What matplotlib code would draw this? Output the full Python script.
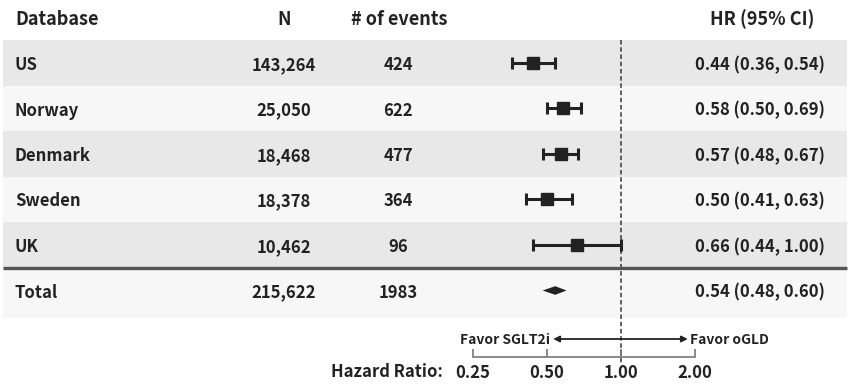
import matplotlib
matplotlib.use("Agg")
import matplotlib.pyplot as plt
import numpy as np

databases = ["US", "Norway", "Denmark", "Sweden", "UK"]
n_vals = ["143,264", "25,050", "18,468", "18,378", "10,462"]
events = ["424", "622", "477", "364", "96"]
hr = [0.44, 0.58, 0.57, 0.50, 0.66]
lo = [0.36, 0.50, 0.48, 0.41, 0.44]
hi = [0.54, 0.69, 0.67, 0.63, 1.00]
total_label = "Total"
total_n = "215,622"
total_events = "1983"
total_hr, total_lo, total_hi = 0.54, 0.48, 0.60
ticks = [0.25, 0.50, 1.00, 2.00]
tick_labels = ["0.25", "0.50", "1.00", "2.00"]

FONT = ['Noto Sans CJK KR', 'DejaVu Sans']
W, H = 850, 386
fig = plt.figure(figsize=(W/100, H/100), dpi=100)
fig.patch.set_facecolor('white')

ROW0 = 63.0     # px centre of first row
ROWH = 45.5     # px per row
def px2row(p):
    return (p - ROW0) / ROWH
TOFF = 2.0 / ROWH  # small text baseline nudge

# background axes covering the full figure
bg = fig.add_axes([0, 0, 1, 1])
bg.set_xlim(0, W)
bg.set_ylim(px2row(H), px2row(0))
bg.axis('off')

TXT = '#222222'
n_rows = len(databases)
for i in range(n_rows):
    col = '#e8e8e8' if i % 2 == 0 else '#f7f7f7'
    bg.axhspan(i - 0.5, i + 0.5, xmin=3/W, xmax=847/W, color=col, lw=0, zorder=0)
bg.axhspan(n_rows - 0.5, n_rows + 0.6, xmin=3/W, xmax=847/W, color='#f7f7f7', lw=0, zorder=0)
bg.plot([3, 847], [n_rows - 0.5, n_rows - 0.5], color='#555555', lw=2.4, solid_capstyle='butt', zorder=3)

hdr_kw = dict(fontsize=13, fontweight='bold', color=TXT, family=FONT, va='center')
bg.text(15, -1 + TOFF, "Database", ha='left', **hdr_kw)
bg.text(284, -1 + TOFF, "N", ha='center', **hdr_kw)
bg.text(399, -1 + TOFF, "# of events", ha='center', **hdr_kw)
bg.text(762, -1 + TOFF, "HR (95% CI)", ha='center', **hdr_kw)

row_kw = dict(fontsize=12, fontweight='bold', color=TXT, family=FONT, va='center')
labels = databases + [total_label]
ns = n_vals + [total_n]
evs = events + [total_events]
hrs = hr + [total_hr]
los = lo + [total_lo]
his = hi + [total_hi]
for i in range(len(labels)):
    bg.text(15, i + TOFF, labels[i], ha='left', **row_kw)
    bg.text(284, i + TOFF, ns[i], ha='center', **row_kw)
    bg.text(398, i + TOFF, evs[i], ha='center', **row_kw)
    bg.text(760, i + TOFF, f"{hrs[i]:.2f} ({los[i]:.2f}, {his[i]:.2f})", ha='center', **row_kw)

# forest axes
x0, x1 = 473, 695
ytop, ybot = 40, 357
ax = fig.add_axes([x0/W, 1 - ybot/H, (x1 - x0)/W, (ybot - ytop)/H])
ax.set_xscale('log')
ax.set_xlim(ticks[0], ticks[-1])
ax.set_ylim(px2row(ybot), px2row(ytop))
ax.patch.set_alpha(0)
for s in ['top', 'right', 'left']:
    ax.spines[s].set_visible(False)
ax.spines['bottom'].set_color('#777777')
ax.spines['bottom'].set_linewidth(1.2)
ax.set_yticks([])
ax.set_xticks(ticks)
ax.set_xticks([], minor=True)
ax.set_xticklabels(tick_labels)
ax.tick_params(axis='x', direction='in', length=6, width=1.2, color='#777777',
               labelsize=12, labelcolor=TXT, pad=5)
for t in ax.get_xticklabels():
    t.set_fontweight('bold')
    t.set_family(FONT)

ax.plot([1.0, 1.0], [px2row(ytop), px2row(365)], color='#555555', lw=1.3,
        ls=(0, (2.5, 1.5)), zorder=1, clip_on=False)

ys = np.arange(n_rows)
ax.errorbar(hr, ys, xerr=[np.array(hr) - np.array(lo), np.array(hi) - np.array(hr)],
            fmt='s', color='#222222', ms=9, elinewidth=2.2, capsize=4.5, capthick=2.2, zorder=4)
d = 0.095
ax.fill([total_lo, total_hr, total_hi, total_hr], [n_rows, n_rows - d, n_rows, n_rows + d],
        color='#222222', lw=0, zorder=4)

# favour arrows
fav_y = px2row(339)
ax.annotate('', xy=(0.53, fav_y), xytext=(1.0, fav_y),
            arrowprops=dict(arrowstyle='-|>', color='#222222', lw=1.3, mutation_scale=9, shrinkA=0, shrinkB=0),
            annotation_clip=False)
ax.annotate('', xy=(1.87, fav_y), xytext=(1.0, fav_y),
            arrowprops=dict(arrowstyle='-|>', color='#222222', lw=1.3, mutation_scale=9, shrinkA=0, shrinkB=0),
            annotation_clip=False)
ax.text(0.515, fav_y + TOFF * 0.5, "Favor SGLT2i", ha='right', va='center', fontsize=10, fontweight='bold',
        color=TXT, family=FONT)
ax.text(1.90, fav_y + TOFF * 0.5, "Favor oGLD", ha='left', va='center', fontsize=10, fontweight='bold',
        color=TXT, family=FONT)

bg.text(443, px2row(372), "Hazard Ratio:", ha='right', va='center', fontsize=12, fontweight='bold',
        color=TXT, family=FONT)

fig.savefig('out.png', dpi=100, facecolor='white')
